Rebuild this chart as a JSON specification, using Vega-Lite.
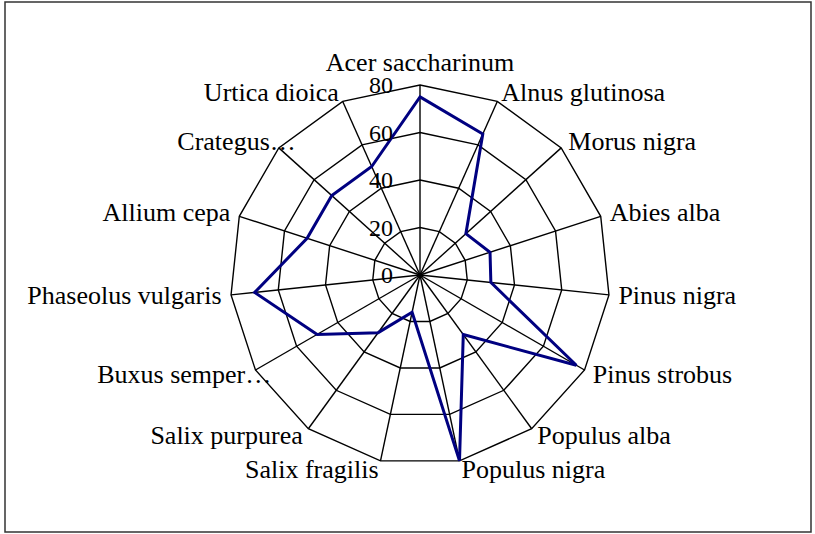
{
  "$schema": "https://vega.github.io/schema/vega-lite/v6.json",
  "width": 806,
  "height": 530,
  "autosize": "none",
  "padding": {"left": 5, "top": 2, "right": 4, "bottom": 2},
  "background": "white",
  "config": {"view": {"stroke": "#333333", "strokeWidth": 1.5}, "font": "'Liberation Serif', 'Times New Roman', 'DejaVu Serif', serif"},
  "datasets": {
    "species": [
      {"name": "Acer saccharinum", "i": 0, "value": 75},
      {"name": "Alnus glutinosa", "i": 1, "value": 65},
      {"name": "Morus nigra", "i": 2, "value": 26},
      {"name": "Abies alba", "i": 3, "value": 31},
      {"name": "Pinus nigra", "i": 4, "value": 30},
      {"name": "Pinus strobus", "i": 5, "value": 76},
      {"name": "Populus alba", "i": 6, "value": 31},
      {"name": "Populus nigra", "i": 7, "value": 80},
      {"name": "Salix fragilis", "i": 8, "value": 16},
      {"name": "Salix purpurea", "i": 9, "value": 30},
      {"name": "Buxus semper…", "i": 10, "value": 50},
      {"name": "Phaseolus vulgaris", "i": 11, "value": 70},
      {"name": "Allium cepa", "i": 12, "value": 50},
      {"name": "Crategus…", "i": 13, "value": 50},
      {"name": "Urtica dioica", "i": 14, "value": 50}
    ],
    "ticks": [{"t": 0}, {"t": 20}, {"t": 40}, {"t": 60}, {"t": 80}]
  },
  "layer": [
    {
      "data": {"name": "species"},
      "transform": [
        {"calculate": "[20, 40, 60, 80]", "as": "lv"},
        {"flatten": ["lv"]},
        {"calculate": "datum.i * 2 * PI / 15", "as": "a"},
        {"calculate": "datum.lv * sin(datum.a)", "as": "x"},
        {"calculate": "datum.lv * cos(datum.a)", "as": "y"}
      ],
      "mark": {"type": "line", "interpolate": "linear-closed", "color": "black", "strokeWidth": 1.4},
      "encoding": {
        "x": {"field": "x", "type": "quantitative", "scale": {"domain": [-174.74, 164.63], "nice": false, "zero": false}, "axis": null},
        "y": {"field": "y", "type": "quantitative", "scale": {"domain": [-108.21, 114.95], "nice": false, "zero": false}, "axis": null},
        "detail": {"field": "lv"},
        "order": {"field": "i", "type": "quantitative"}
      }
    },
    {
      "data": {"name": "species"},
      "transform": [
        {"calculate": "datum.i * 2 * PI / 15", "as": "a"},
        {"calculate": "80 * sin(datum.a)", "as": "x"},
        {"calculate": "80 * cos(datum.a)", "as": "y"}
      ],
      "mark": {"type": "rule", "color": "black", "strokeWidth": 1.4},
      "encoding": {
        "x": {"field": "x", "type": "quantitative", "scale": {"domain": [-174.74, 164.63], "nice": false, "zero": false}, "axis": null},
        "y": {"field": "y", "type": "quantitative", "scale": {"domain": [-108.21, 114.95], "nice": false, "zero": false}, "axis": null},
        "x2": {"datum": 0},
        "y2": {"datum": 0}
      }
    },
    {
      "data": {"name": "species"},
      "transform": [
        {"calculate": "datum.i * 2 * PI / 15", "as": "a"},
        {"calculate": "datum.value * sin(datum.a)", "as": "x"},
        {"calculate": "datum.value * cos(datum.a)", "as": "y"}
      ],
      "mark": {"type": "line", "interpolate": "linear-closed", "color": "#000080", "strokeWidth": 3},
      "encoding": {
        "x": {"field": "x", "type": "quantitative", "scale": {"domain": [-174.74, 164.63], "nice": false, "zero": false}, "axis": null},
        "y": {"field": "y", "type": "quantitative", "scale": {"domain": [-108.21, 114.95], "nice": false, "zero": false}, "axis": null},
        "order": {"field": "i", "type": "quantitative"}
      }
    },
    {
      "data": {"name": "species"},
      "transform": [
        {"filter": "datum.i >= 1 && datum.i <= 7"},
        {"calculate": "datum.i * 2 * PI / 15", "as": "a"},
        {"calculate": "84 * sin(datum.a)", "as": "x"},
        {"calculate": "84 * cos(datum.a)", "as": "y"}
      ],
      "mark": {"type": "text", "align": "left", "baseline": "middle", "fontSize": 26, "color": "black"},
      "encoding": {
        "x": {"field": "x", "type": "quantitative", "scale": {"domain": [-174.74, 164.63], "nice": false, "zero": false}, "axis": null},
        "y": {"field": "y", "type": "quantitative", "scale": {"domain": [-108.21, 114.95], "nice": false, "zero": false}, "axis": null},
        "text": {"field": "name"}
      }
    },
    {
      "data": {"name": "species"},
      "transform": [
        {"filter": "datum.i >= 8 && indexof(datum.name, '…') < 0"},
        {"calculate": "datum.i * 2 * PI / 15", "as": "a"},
        {"calculate": "84 * sin(datum.a)", "as": "x"},
        {"calculate": "84 * cos(datum.a)", "as": "y"}
      ],
      "mark": {"type": "text", "align": "right", "baseline": "middle", "fontSize": 26, "color": "black"},
      "encoding": {
        "x": {"field": "x", "type": "quantitative", "scale": {"domain": [-174.74, 164.63], "nice": false, "zero": false}, "axis": null},
        "y": {"field": "y", "type": "quantitative", "scale": {"domain": [-108.21, 114.95], "nice": false, "zero": false}, "axis": null},
        "text": {"field": "name"}
      }
    },
    {
      "data": {"name": "species"},
      "transform": [
        {"filter": "datum.i >= 8 && indexof(datum.name, '…') >= 0"},
        {"calculate": "datum.i * 2 * PI / 15", "as": "a"},
        {"calculate": "84 * sin(datum.a)", "as": "x"},
        {"calculate": "84 * cos(datum.a)", "as": "y"}
      ],
      "mark": {"type": "text", "align": "right", "baseline": "middle", "fontSize": 26, "color": "black", "dx": 24},
      "encoding": {
        "x": {"field": "x", "type": "quantitative", "scale": {"domain": [-174.74, 164.63], "nice": false, "zero": false}, "axis": null},
        "y": {"field": "y", "type": "quantitative", "scale": {"domain": [-108.21, 114.95], "nice": false, "zero": false}, "axis": null},
        "text": {"field": "name"}
      }
    },
    {
      "data": {"name": "species"},
      "transform": [
        {"filter": "datum.i == 0"},
        {"calculate": "datum.i * 2 * PI / 15", "as": "a"},
        {"calculate": "84 * sin(datum.a)", "as": "x"},
        {"calculate": "84 * cos(datum.a)", "as": "y"}
      ],
      "mark": {"type": "text", "align": "center", "baseline": "middle", "fontSize": 26, "color": "black", "dy": -13},
      "encoding": {
        "x": {"field": "x", "type": "quantitative", "scale": {"domain": [-174.74, 164.63], "nice": false, "zero": false}, "axis": null},
        "y": {"field": "y", "type": "quantitative", "scale": {"domain": [-108.21, 114.95], "nice": false, "zero": false}, "axis": null},
        "text": {"field": "name"}
      }
    },
    {
      "data": {"name": "ticks"},
      "mark": {"type": "text", "align": "right", "baseline": "middle", "fontSize": 24, "color": "black", "dy": 1},
      "encoding": {
        "x": {"datum": -11.4, "type": "quantitative", "scale": {"domain": [-174.74, 164.63], "nice": false, "zero": false}, "axis": null},
        "y": {"field": "t", "type": "quantitative", "scale": {"domain": [-108.21, 114.95], "nice": false, "zero": false}, "axis": null},
        "text": {"field": "t", "type": "quantitative"}
      }
    }
  ]
}
